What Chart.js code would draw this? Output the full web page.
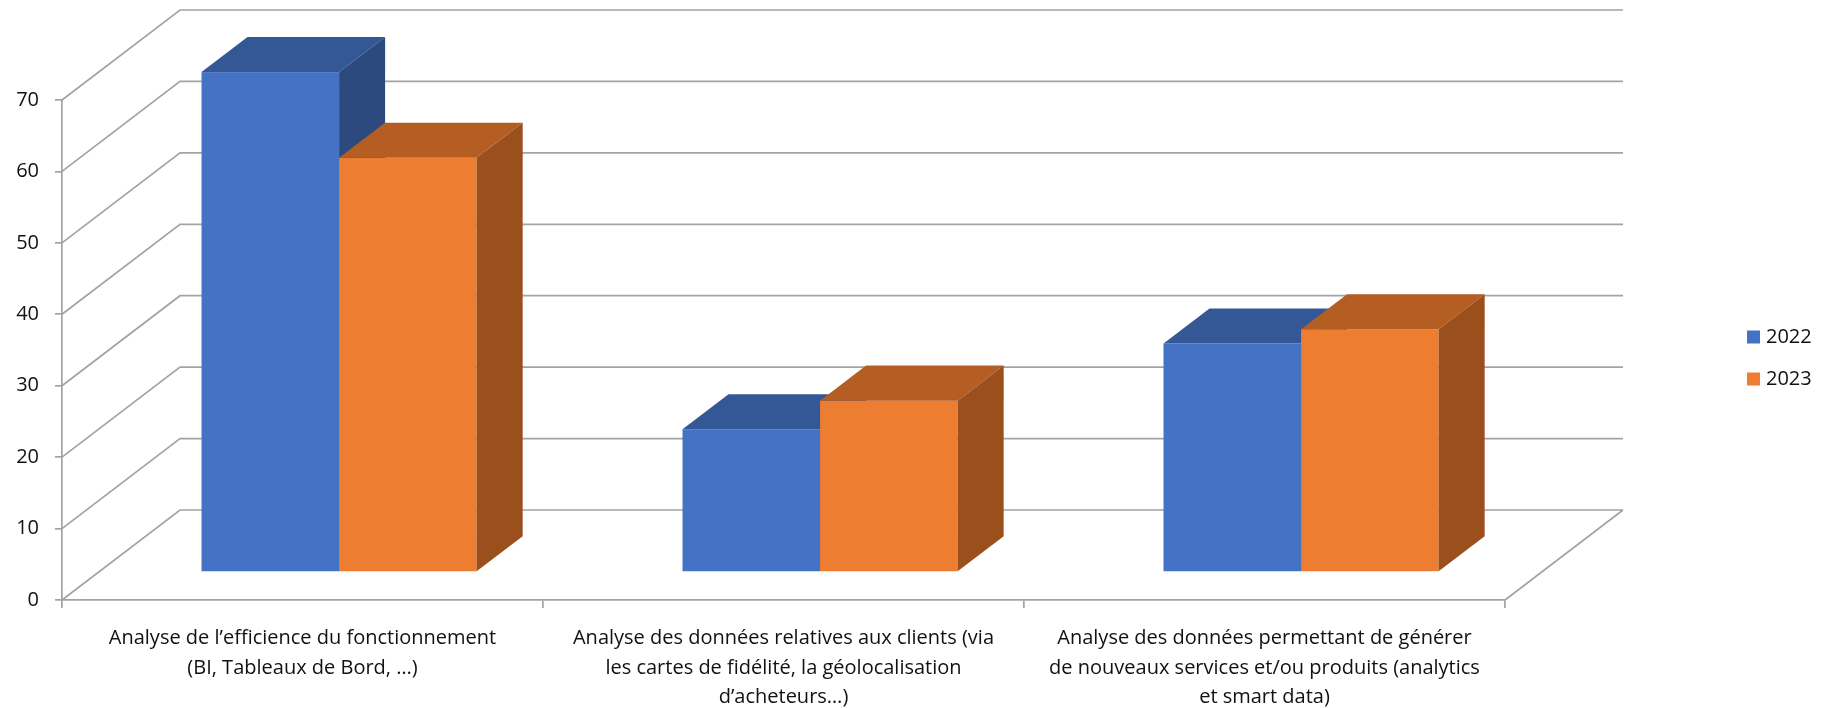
<!DOCTYPE html>
<html>
<head>
<meta charset="utf-8">
<script src="https://cdn.jsdelivr.net/npm/chart.js@4"></script>
<style>
  html, body { margin: 0; padding: 0; background: #fff; }
  #wrap { width: 1832px; height: 708px; }
</style>
</head>
<body>
<div id="wrap"><canvas id="myChart"></canvas></div>
<script>
// categories (one array per line of the label)
const categories = [
  ["Analyse de l\u2019efficience du fonctionnement", "(BI, Tableaux de Bord, \u2026)"],
  ["Analyse des donn\u00e9es relatives aux clients (via", "les cartes de fid\u00e9lit\u00e9, la g\u00e9olocalisation", "d\u2019acheteurs\u2026)"],
  ["Analyse des donn\u00e9es permettant de g\u00e9n\u00e9rer", "de nouveaux services et/ou produits (analytics", "et smart data)"]
];
const seriesNames = ["2022", "2023"];
const values2022 = [70, 20, 32];
const values2023 = [58, 24, 34];
const yMin = 0, yMax = 70, yStep = 10;

// couleurs: face avant, dessus, côté
const shades = [
  { front: "#4472c4", top: "#345895", side: "#2d4a7f" },
  { front: "#ed7d31", top: "#b45e23", side: "#9a4f1d" }
];
const gridColor = "#a3a3a3";
const fontFamily = "'Open Sans', 'Noto Sans', sans-serif";

// profondeur de la "boite" 3D
const DX = 118, DY = -90;
const frontGap = 0.31;  // position de la face avant des barres dans la profondeur
const barDepth = 0.39;  // epaisseur des barres

const box3d = {
  id: "box3d",
  beforeDatasetsDraw(chart) {
    const { ctx, chartArea: a, scales: { x, y } } = chart;
    ctx.save();
    ctx.strokeStyle = gridColor;
    ctx.lineWidth = 1.7;
    // mur du fond + mur de gauche
    y.ticks.forEach(t => {
      const py = y.getPixelForValue(t.value);
      ctx.beginPath();
      ctx.moveTo(a.left, py);
      ctx.lineTo(a.left + DX, py + DY);
      ctx.lineTo(a.right + DX, py + DY);
      ctx.stroke();
    });
    // bord droit du sol
    const p0 = y.getPixelForValue(0);
    ctx.beginPath();
    ctx.moveTo(a.right, p0);
    ctx.lineTo(a.right + DX, p0 + DY);
    ctx.stroke();

    // barres 3D
    const ox = barDepth * DX, oy = barDepth * DY;
    chart.data.labels.forEach((_, i) => {
      chart.data.datasets.forEach((ds, j) => {
        const bar = chart.getDatasetMeta(j).data[i];
        const p = bar.getProps(["x", "y", "base", "width"], true);
        const l = p.x - p.width / 2 + frontGap * DX;
        const r = p.x + p.width / 2 + frontGap * DX;
        const t = p.y + frontGap * DY;
        const b = p.base + frontGap * DY;
        const c = shades[j];
        ctx.fillStyle = c.front;
        ctx.fillRect(l, t, r - l, b - t);
        ctx.fillStyle = c.top;
        ctx.beginPath();
        ctx.moveTo(l, t); ctx.lineTo(l + ox, t + oy); ctx.lineTo(r + ox, t + oy); ctx.lineTo(r, t);
        ctx.closePath(); ctx.fill();
        ctx.fillStyle = c.side;
        ctx.beginPath();
        ctx.moveTo(r, t); ctx.lineTo(r + ox, t + oy); ctx.lineTo(r + ox, b + oy); ctx.lineTo(r, b);
        ctx.closePath(); ctx.fill();
      });
    });
    ctx.restore();
    return false;
  },
  afterDraw(chart) {
    // legende a droite
    const { ctx } = chart;
    ctx.save();
    ctx.font = "20px " + fontFamily;
    ctx.textBaseline = "middle";
    ctx.textAlign = "left";
    chart.data.datasets.forEach((ds, j) => {
      const cy = 337 + j * 42;
      ctx.fillStyle = shades[j].front;
      ctx.fillRect(1747, cy - 6.5, 13, 13);
      ctx.fillStyle = "#111";
      ctx.fillText(ds.label, 1766, cy);
    });
    ctx.restore();
  }
};

new Chart(document.getElementById("myChart"), {
  type: "bar",
  data: {
    labels: categories,
    datasets: [
      { label: seriesNames[0], data: values2022, backgroundColor: shades[0].front },
      { label: seriesNames[1], data: values2023, backgroundColor: shades[1].front }
    ]
  },
  options: {
    responsive: true,
    maintainAspectRatio: false,
    animation: false,
    datasets: { bar: { categoryPercentage: 0.572, barPercentage: 1 } },
    layout: { padding: { top: 100, right: 327, bottom: 0, left: 0 } },
    plugins: { legend: { display: false }, tooltip: { enabled: false } },
    scales: {
      x: {
        afterFit: s => { s.height = 108; },
        grid: { drawOnChartArea: false, drawTicks: true, tickLength: 8, color: gridColor, lineWidth: 1.7 },
        border: { display: true, color: gridColor, width: 1.7 },
        ticks: { color: "#111", padding: 16, maxRotation: 0, autoSkip: false,
                 font: { family: fontFamily, size: 20, lineHeight: 1.46 } }
      },
      y: {
        min: yMin, max: yMax,
        afterFit: s => { s.width = 62; },
        grid: { drawOnChartArea: false, drawTicks: true, tickLength: 7, color: gridColor, lineWidth: 1.7 },
        border: { display: true, color: gridColor, width: 1.7 },
        ticks: { stepSize: yStep, color: "#111", padding: 16,
                 font: { family: fontFamily, size: 20 } }
      }
    }
  },
  plugins: [box3d]
});
</script>
</body>
</html>
